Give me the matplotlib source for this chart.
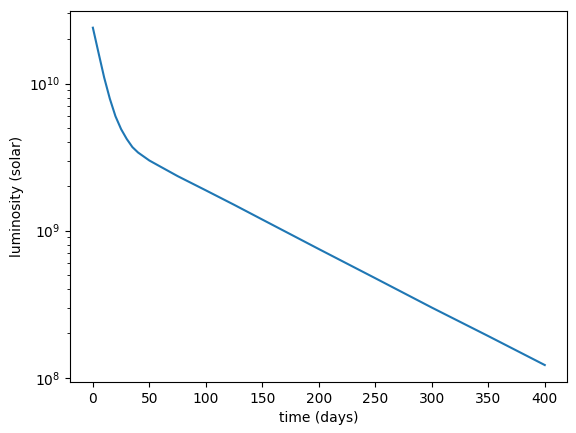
import matplotlib
matplotlib.use("Agg")
import matplotlib.pyplot as plt

days = [0, 5, 10, 15, 20, 25, 30, 35, 40, 50, 60, 75, 100, 125, 150, 200, 250, 300, 350, 400]
lum = [2.4e10, 1.62e10, 1.1e10, 7.9e9, 6.0e9, 4.9e9, 4.2e9, 3.7e9, 3.4e9, 3.0e9, 2.72e9, 2.35e9, 1.88e9, 1.5e9, 1.19e9,
       7.5e8, 4.75e8, 3.0e8, 1.92e8, 1.22e8]

fig, ax = plt.subplots(figsize=(5.76, 4.33), dpi=100)
ax.plot(days, lum, color="#1f77b4")
ax.set_yscale("log")
ax.set_xlabel("time (days)")
ax.set_ylabel("luminosity (solar)")
fig.subplots_adjust(left=0.122, right=0.985, top=0.975, bottom=0.118)
fig.savefig("out.png")
